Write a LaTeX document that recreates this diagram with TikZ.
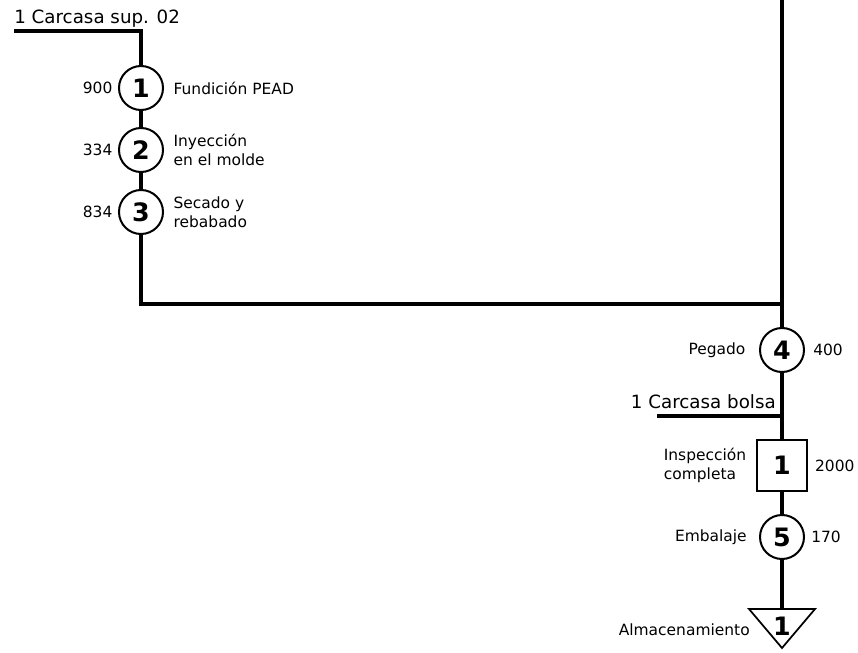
\documentclass[tikz,border=0pt]{standalone}
\usepackage{fontspec}
\setmainfont{DejaVu Sans}
\usepackage{tikz}
\usetikzlibrary{positioning}

\tikzset{
  flow/.style={line width=2.6pt},
  oper/.style={draw, circle, line width=1.5pt, minimum size=33pt, inner sep=0pt,
    font=\fontsize{19}{20}\selectfont\bfseries},
  insp/.style={draw, rectangle, line width=1.3pt, minimum size=38pt, inner sep=0pt,
    font=\fontsize{19}{20}\selectfont\bfseries},
  num/.style={inner sep=0pt, font=\fontsize{19}{20}\selectfont\bfseries},
  txt/.style={inner sep=0pt, align=left, font=\fontsize{11.6}{14.3}\selectfont},
  inlbl/.style={inner sep=0pt, font=\fontsize{13.7}{16}\selectfont},
}

\begin{document}
\begin{tikzpicture}[x=0.75pt,y=0.75pt,yscale=-1,xscale=1]
\useasboundingbox (0,0) rectangle (858,653);

%Operations of the left branch
\node[oper] (op1) at (141,88) {1};
\node[oper] (op2) at (141,150) {2};
\node[oper] (op3) at (141,212) {3};
%Operations of the main line
\node[oper] (op4) at (782,350) {4};
\node[insp] (insp1) at (782,465.5) {1};
\node[oper] (op5) at (782,537) {5};
%Storage triangle
\coordinate (alm) at (782,609);
\draw[line width=1.3pt] (alm) ++(-33,0) -- ++(66,0) -- ++(-33,39) -- cycle;
\node[num] (alm1) at (782,626) {1};

%Corners and free ends of the lines
\coordinate (sup0) at (14,31);
\coordinate (sup1) at (141,31);
\coordinate (top) at (782,0);
\coordinate (turn) at (141,304);
\coordinate (join) at (782,304);
\coordinate (bolsa0) at (657,416);
\coordinate (bolsa1) at (782,416);

%Flow lines
\draw[flow] (sup0) -- (sup1) -- (op1);
\draw[flow] (op1) -- (op2);
\draw[flow] (op2) -- (op3);
\draw[flow] (op3) -- (turn) -- (join);
\draw[flow] (top) -- (op4);
\draw[flow] (op4) -- (insp1);
\draw[flow] (bolsa0) -- (bolsa1);
\draw[flow] (insp1) -- (op5);
\draw[flow] (op5) -- (alm);

% Text Node
\node[inlbl, anchor=base west] (supTxt) at (14,23) {1 Carcasa sup. 02};
\node[txt, left=4pt of op1] (t900) {900};
\node[txt, right=7pt of op1] (tFund) {Fundición PEAD};
\node[txt, left=4pt of op2] (t334) {334};
\node[txt, right=7pt of op2] (tIny) {Inyección\\en el molde};
\node[txt, left=4pt of op3] (t834) {834};
\node[txt, right=7pt of op3] (tSec) {Secado y\\rebabado};
% Text Node
\node[txt, left=10pt of op4] (tPeg) {Pegado};
\node[txt, right=6pt of op4] (t400) {400};
\node[inlbl, anchor=base east] (bolsaTxt) at (776,408) {1 Carcasa bolsa};
\node[txt, left=7pt of insp1] (tInsp) {Inspección\\completa};
\node[txt, right=5pt of insp1] (t2000) {2000};
\node[txt, left=9pt of op5] (tEmb) {Embalaje};
\node[txt, right=4.5pt of op5] (t170) {170};
\node[txt, anchor=east] (tAlm) at (750,630) {Almacenamiento};

\end{tikzpicture}
\end{document}
